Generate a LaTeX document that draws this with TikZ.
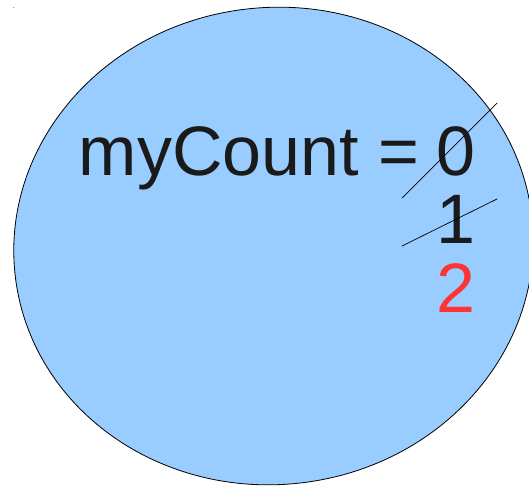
\documentclass[tikz,border=0pt]{standalone}
\usepackage{fontspec}
\setmainfont{Liberation Sans}
\definecolor{bubble}{HTML}{99CCFF}
\definecolor{ink}{HTML}{1A1A1A}
\definecolor{newval}{HTML}{FF3333}
\begin{document}
\begin{tikzpicture}[x=1pt,y=-1pt,
  bigtext/.style={font=\fontsize{70}{84}\selectfont, text=ink, inner sep=0pt},
  strike/.style={draw=black, line width=0.7pt}]
\useasboundingbox (0,0) rectangle (529,485);
\begin{scope}
\clip (0,0) rectangle (529,485);
\filldraw[fill=bubble, draw=black, line width=0.8pt]
  (273.5,246) ellipse [x radius=260, y radius=238.5, rotate=6.7];
\end{scope}
\fill[black!45] (12.5,6.5) rectangle (14,8);
\node[bigtext, anchor=base west] (label) at (78.5,175) {myCount};
\node[bigtext, anchor=base] (eq) at (398.5,175) {=};
\node[bigtext, anchor=base] (zero) at (456,175) {0};
\node[bigtext, anchor=base] (one) at (455.5,243) {1};
\node[bigtext, anchor=base, text=newval] (two) at (456,312) {2};
\coordinate (s1a) at (402,198);
\coordinate (s1b) at (497,103);
\coordinate (s2a) at (402,246);
\coordinate (s2b) at (497,199);
\draw[strike] (s1a) -- (s1b);
\draw[strike] (s2a) -- (s2b);
\end{tikzpicture}
\end{document}
